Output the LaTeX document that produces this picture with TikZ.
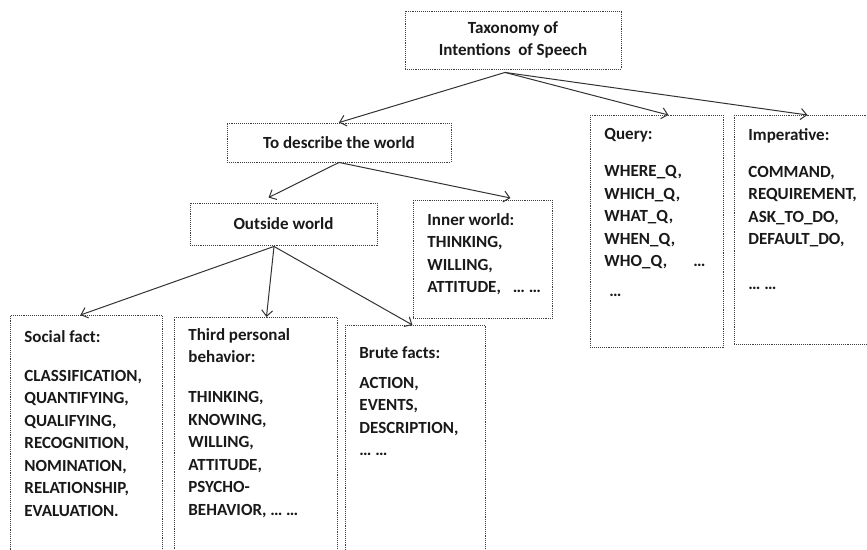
\documentclass[tikz,border=0pt]{standalone}
\usepackage{fontspec}
\setmainfont{Carlito}
\usetikzlibrary{positioning, arrows.meta}
% text block set at the top of a framed box: width, height, top gap, text
\newcommand{\boxtext}[4]{\parbox[t][#2pt][t]{\dimexpr#1pt-28pt\relax}{\vspace*{#3pt}#4}}
\tikzset{
  tbox/.style={draw=black!75, densely dotted, line width=0.9pt, text=black!90,
               font=\bfseries\fontsize{17}{22.5}\selectfont},
  tmid/.style={tbox, align=center, inner sep=0pt},
  tlst/.style={tbox, anchor=north west, inner xsep=14pt, inner ysep=0pt},
  tarr/.style={-{Straight Barb[length=6pt, width=11pt]}, line width=1pt, black!80},
}

\begin{document}
\begin{tikzpicture}[x=1pt, y=1pt]
  \useasboundingbox (0,0) rectangle (867,549);
  \clip (0,0) rectangle (867,549);
  \fill[white] (0,0) rectangle (867,549);

  \node[tmid, minimum width=216pt, minimum height=58pt] (root) at (513,509)
    {Taxonomy of\\Intentions\ \ of Speech};
  \node[tmid, minimum width=224pt, minimum height=39pt] (desc) at (339,406.5)
    {To describe the world};
  \node[tmid, minimum width=187pt, minimum height=42pt] (outside) at (283.5,325)
    {Outside world};

  \node[tlst] (inner) at (413,349) {\boxtext{139}{118}{13}{%
    Inner world:\\ THINKING,\\ WILLING,\\ \rlap{ATTITUDE,\hspace{12pt}… …}}};
  \node[tlst] (query) at (590,434) {\boxtext{133}{232}{13}{%
    Query:\\[14.5pt] WHERE\_Q,\\ WHICH\_Q,\\ WHAT\_Q,\\ WHEN\_Q,\\
    WHO\_Q,\hfill…\hspace*{4pt}\\[7.5pt] \hspace*{5pt}…}};
  \node[tlst] (imper) at (734,434) {\boxtext{150}{229}{13}{%
    Imperative:\\[14.5pt] COMMAND,\\ REQUIREMENT,\\ ASK\_TO\_DO,\\
    DEFAULT\_DO,\\[22.5pt] … …}};

  \node[tlst] (social) at (10,234) {\boxtext{152}{260}{15}{%
    Social fact:\\[16.5pt] CLASSIFICATION,\\ QUANTIFYING,\\ QUALIFYING,\\
    RECOGNITION,\\ NOMINATION,\\ RELATIONSHIP,\\ EVALUATION.}};
  \node[tlst] (third) at (174,232) {\boxtext{163}{260}{11}{%
    Third personal\\ behavior:\\[17.5pt] THINKING,\\ KNOWING,\\ WILLING,\\
    ATTITUDE,\\ PSYCHO-\\ BEHAVIOR, … …}};
  \node[tlst] (brute) at (345,224) {\boxtext{140}{260}{21}{%
    Brute facts:\\[7.5pt] ACTION,\\ EVENTS,\\ DESCRIPTION,\\ … …}};

  % fork points
  \coordinate (rootfork) at ([xshift=-8pt,yshift=-3pt]root.south);
  \coordinate (outfork) at ([xshift=-9.5pt,yshift=-1pt]outside.south);

  \draw[tarr] (rootfork) -- (desc.north);
  \draw[tarr] (rootfork) -- ([xshift=11.5pt]query.north);
  \draw[tarr] (rootfork) -- ([xshift=-2pt]imper.north);
  \draw[tarr] (desc.south) -- ([xshift=-15pt,yshift=5pt]outside.north);
  \draw[tarr] (desc.south) -- ([xshift=27.5pt,yshift=2pt]inner.north);
  \draw[tarr] (outfork) -- ([xshift=-6pt]social.north);
  \draw[tarr] (outfork) -- ([xshift=10.5pt]third.north);
  \draw[tarr] (outfork) -- ([xshift=-3pt]brute.north);
\end{tikzpicture}
\end{document}
